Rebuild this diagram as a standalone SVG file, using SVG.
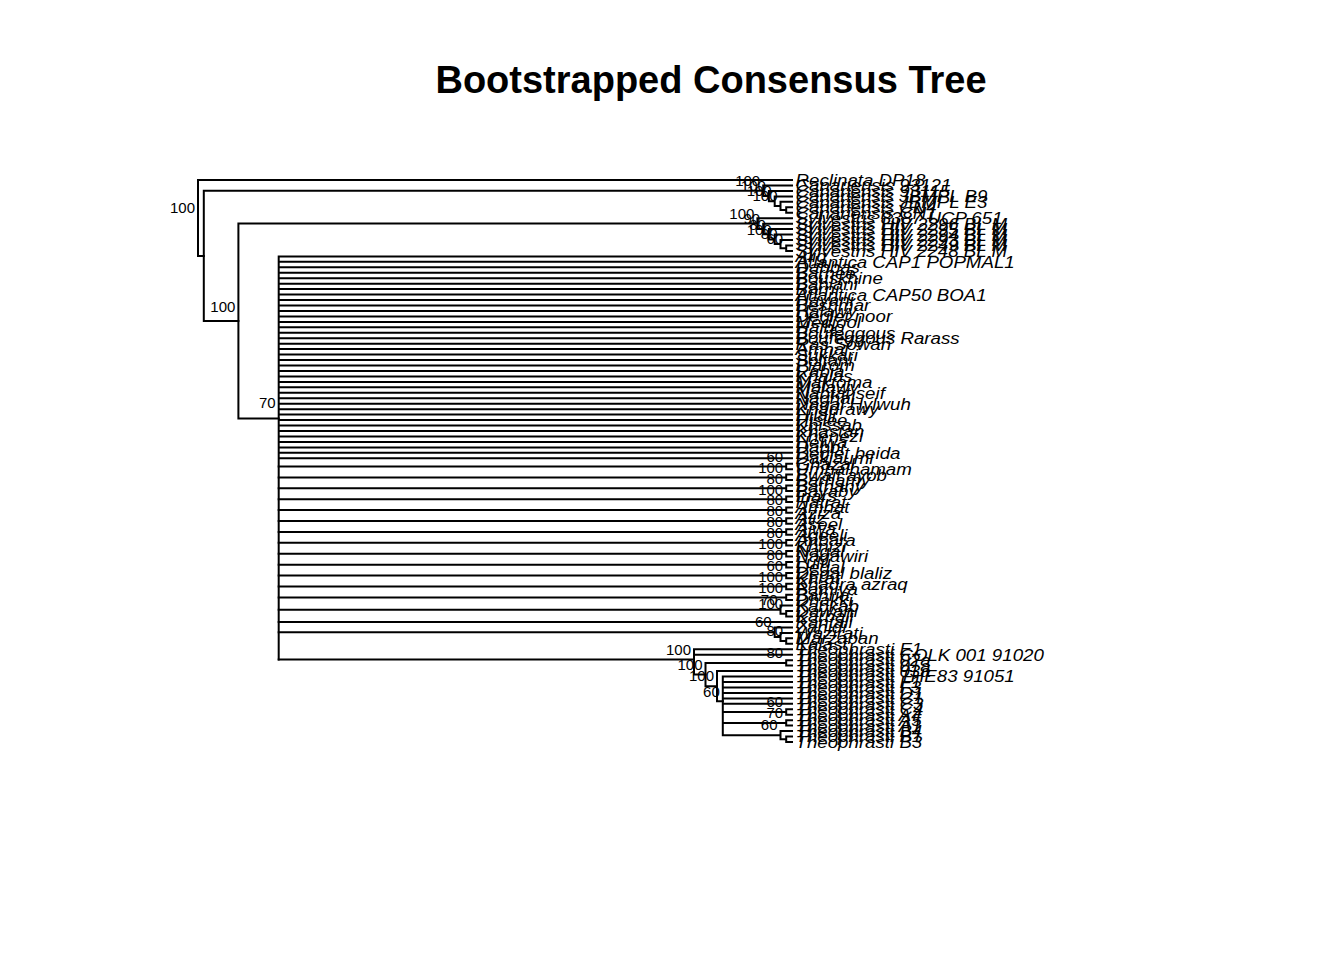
<svg xmlns="http://www.w3.org/2000/svg" width="1344" height="960" viewBox="0 0 1344 960">
<style>
.e{fill:none;stroke:#000;stroke-width:2;stroke-linecap:square}
.t{font-family:"Liberation Sans",Arial,Helvetica,sans-serif;font-style:italic;font-size:17px;fill:#000}
.n{font-family:"Liberation Sans",Arial,Helvetica,sans-serif;font-size:15px;fill:#000;text-anchor:end}
.ti{font-family:"Liberation Sans",Arial,Helvetica,sans-serif;font-weight:bold;font-size:38px;fill:#000;text-anchor:middle}
</style>
<rect width="1344" height="960" fill="#fff"/>
<text class="ti" x="711" y="93">Bootstrapped Consensus Tree</text>
<g id="connectors" class="e">
<path d="M198 180H792M198 180V255.9M198 255.9H203.8"/>
<path d="M203.8 190.7V321M203.8 190.7H763.2M203.8 321H238.4"/>
<path d="M763.2 185.5V196M763.2 185.5H792M763.2 196H768.9M768.9 190.9V201.2M768.9 190.9H792M768.9 201.2H774.7M774.7 196.4V205.9M774.7 196.4H792M774.7 205.9H780.5M780.5 201.8V210M780.5 201.8H792M780.5 210H786.2M786.2 207.3V212.7M786.2 207.3H792M786.2 212.7H792"/>
<path d="M238.4 223.6V418.5M238.4 223.6H757.4M238.4 418.5H278.7"/>
<path d="M757.4 218.2V229M757.4 218.2H792M757.4 229H763.2M763.2 223.7V234.2M763.2 223.7H792M763.2 234.2H768.9M768.9 229.1V239.4M768.9 229.1H792M768.9 239.4H774.7M774.7 234.6V244.1M774.7 234.6H792M774.7 244.1H780.5M780.5 240V248.2M780.5 240H792M780.5 248.2H786.2M786.2 245.5V250.9M786.2 245.5H792M786.2 250.9H792"/>
<path d="M278.7 256.4V659.5M278.7 256.4H792M278.7 261.8H792M278.7 267.3H792M278.7 272.8H792M278.7 278.2H792M278.7 283.7H792M278.7 289.1H792M278.7 294.6H792M278.7 300H792M278.7 305.5H792M278.7 311H792M278.7 316.4H792M278.7 321.9H792M278.7 327.3H792M278.7 332.8H792M278.7 338.2H792M278.7 343.7H792M278.7 349.1H792M278.7 354.6H792M278.7 360.1H792M278.7 365.5H792M278.7 371H792M278.7 376.4H792M278.7 381.9H792M278.7 387.3H792M278.7 392.8H792M278.7 398.3H792M278.7 403.7H792M278.7 409.2H792M278.7 414.6H792M278.7 420.1H792M278.7 425.5H792M278.7 431H792M278.7 436.4H792M278.7 441.9H792M278.7 447.4H792M278.7 452.8H792M278.7 458.3H792"/>
<path d="M278.7 466.5H786.2M786.2 463.7V469.2M786.2 463.7H792M786.2 469.2H792"/>
<path d="M278.7 477.4H786.2M786.2 474.6V480.1M786.2 474.6H792M786.2 480.1H792"/>
<path d="M278.7 488.3H786.2M786.2 485.6V491M786.2 485.6H792M786.2 491H792"/>
<path d="M278.7 499.2H786.2M786.2 496.5V501.9M786.2 496.5H792M786.2 501.9H792"/>
<path d="M278.7 510.1H786.2M786.2 507.4V512.8M786.2 507.4H792M786.2 512.8H792"/>
<path d="M278.7 521H786.2M786.2 518.3V523.7M786.2 518.3H792M786.2 523.7H792"/>
<path d="M278.7 531.9H786.2M786.2 529.2V534.7M786.2 529.2H792M786.2 534.7H792"/>
<path d="M278.7 542.8H786.2M786.2 540.1V545.6M786.2 540.1H792M786.2 545.6H792"/>
<path d="M278.7 553.8H786.2M786.2 551V556.5M786.2 551H792M786.2 556.5H792"/>
<path d="M278.7 564.7H786.2M786.2 561.9V567.4M786.2 561.9H792M786.2 567.4H792"/>
<path d="M278.7 575.6H786.2M786.2 572.9V578.3M786.2 572.9H792M786.2 578.3H792"/>
<path d="M278.7 586.5H786.2M786.2 583.8V589.2M786.2 583.8H792M786.2 589.2H792"/>
<path d="M278.7 597.4H786.2M786.2 594.7V600.1M786.2 594.7H792M786.2 600.1H792"/>
<path d="M278.7 609.7H780.5M780.5 605.6V613.8M780.5 605.6H792M780.5 613.8H786.2M786.2 611.1V616.5M786.2 611.1H792M786.2 616.5H792"/>
<path d="M278.7 622H792"/>
<path d="M278.7 632.2H774.7M774.7 627.4V637M774.7 627.4H792M774.7 637H780.5M780.5 632.9V641.1M780.5 632.9H792M780.5 641.1H786.2M786.2 638.3V643.8M786.2 638.3H792M786.2 643.8H792"/>
<path d="M278.7 659.5H694M694 649.2V674.5M694 649.2H792M694 654.7H792M694 674.5H705.5"/>
<path d="M705.5 662.9V686.2M705.5 662.9H786.2M786.2 660.2V665.6M786.2 660.2H792M786.2 665.6H792M705.5 686.2H717"/>
<path d="M717 671.1V701.2M717 671.1H792M717 701.2H722.8"/>
<path d="M722.8 676.5V735.2M722.8 676.5H792M722.8 682H792M722.8 687.4H792M722.8 692.9H792M722.8 698.4H792M722.8 703.8H792M722.8 712H786.2M786.2 709.3V714.7M786.2 709.3H792M786.2 714.7H792M722.8 722.9H786.2M786.2 720.2V725.6M786.2 720.2H792M786.2 725.6H792M722.8 735.2H780.5M780.5 731.1V739.3M780.5 731.1H792M780.5 739.3H786.2M786.2 736.5V742M786.2 736.5H792M786.2 742H792"/>
</g>
<g id="internal-nodes">
<g id="node-root"><text class="n" x="195" y="212.5">100</text></g>
<g id="node-C"><text class="n" x="235.4" y="312">100</text></g>
<g id="node-D"><text class="n" x="275.7" y="408">70</text></g>
<g id="node-K1"><text class="n" x="760.2" y="186">100</text></g>
<g id="node-K2"><text class="n" x="765.9" y="191.3">100</text></g>
<g id="node-K3"><text class="n" x="771.7" y="196.4">100</text></g>
<g id="node-K4"><text class="n" x="777.5" y="201.2">100</text></g>
<g id="node-S1"><text class="n" x="754.4" y="218.9">100</text></g>
<g id="node-S2"><text class="n" x="760.2" y="224.2">90</text></g>
<g id="node-S3"><text class="n" x="765.9" y="229.5">80</text></g>
<g id="node-S4"><text class="n" x="771.7" y="234.6">100</text></g>
<g id="node-S5"><text class="n" x="777.5" y="239.4">80</text></g>
<g id="node-S6"><text class="n" x="783.2" y="243.5">60</text></g>
<g id="node-P0"><text class="n" x="783.2" y="461.7">60</text></g>
<g id="node-P1"><text class="n" x="783.2" y="472.6">100</text></g>
<g id="node-P2"><text class="n" x="783.2" y="483.5">80</text></g>
<g id="node-P3"><text class="n" x="783.2" y="494.5">100</text></g>
<g id="node-P4"><text class="n" x="783.2" y="505.4">80</text></g>
<g id="node-P5"><text class="n" x="783.2" y="516.3">80</text></g>
<g id="node-P6"><text class="n" x="783.2" y="527.2">80</text></g>
<g id="node-P7"><text class="n" x="783.2" y="538.1">80</text></g>
<g id="node-P8"><text class="n" x="783.2" y="549">100</text></g>
<g id="node-P9"><text class="n" x="783.2" y="559.9">80</text></g>
<g id="node-P10"><text class="n" x="783.2" y="570.8">60</text></g>
<g id="node-P11"><text class="n" x="783.2" y="581.8">100</text></g>
<g id="node-P12"><text class="n" x="783.2" y="592.7">100</text></g>
<g id="node-Z"><text class="n" x="777.5" y="604.9">70</text></g>
<g id="node-Zp"><text class="n" x="783.2" y="609">100</text></g>
<g id="node-Q"><text class="n" x="771.7" y="627.4">60</text></g>
<g id="node-Rp"><text class="n" x="783.2" y="636.3">80</text></g>
<g id="node-T1"><text class="n" x="691" y="654.7">100</text></g>
<g id="node-Tp"><text class="n" x="783.2" y="658.1">80</text></g>
<g id="node-T2"><text class="n" x="702.5" y="669.8">100</text></g>
<g id="node-T3"><text class="n" x="714" y="681.4">100</text></g>
<g id="node-T4"><text class="n" x="719.8" y="696.5">60</text></g>
<g id="node-Tq1"><text class="n" x="783.2" y="707.2">60</text></g>
<g id="node-Tq2"><text class="n" x="783.2" y="718.1">70</text></g>
<g id="node-Tr"><text class="n" x="777.5" y="730.4">60</text></g>
</g>
<g id="tips" class="t" transform="translate(795.5 0.6) scale(1.1 1)">
<g id="tip-0"><text x="0" y="185.4">Reclinata DP18</text></g>
<g id="tip-1"><text x="0" y="190.9">Canariensis 93121</text></g>
<g id="tip-2"><text x="0" y="196.3">Canariensis 93115</text></g>
<g id="tip-3"><text x="0" y="201.8">Canariensis JBMPL B9</text></g>
<g id="tip-4"><text x="0" y="207.2">Canariensis JBMPL E3</text></g>
<g id="tip-5"><text x="0" y="212.7">Canariensis CN4</text></g>
<g id="tip-6"><text x="0" y="218.1">Canariensis CN1</text></g>
<g id="tip-7"><text x="0" y="223.6">Sylvestris 8387 UCP 651</text></g>
<g id="tip-8"><text x="0" y="229.1">Sylvestris HIV 2296 BL M</text></g>
<g id="tip-9"><text x="0" y="234.5">Sylvestris HIV 2295 BL M</text></g>
<g id="tip-10"><text x="0" y="240">Sylvestris HIV 2294 BL M</text></g>
<g id="tip-11"><text x="0" y="245.4">Sylvestris HIV 2293 BL M</text></g>
<g id="tip-12"><text x="0" y="250.9">Sylvestris HIV 2249 BL M</text></g>
<g id="tip-13"><text x="0" y="256.3">Sylvestris HIV 2248 BL M</text></g>
<g id="tip-14"><text x="0" y="261.8">Alig</text></g>
<g id="tip-15"><text x="0" y="267.2">Atlantica CAP1 POPMAL1</text></g>
<g id="tip-16"><text x="0" y="272.7">Dabbas</text></g>
<g id="tip-17"><text x="0" y="278.2">Barhee</text></g>
<g id="tip-18"><text x="0" y="283.6">Bouskhine</text></g>
<g id="tip-19"><text x="0" y="289.1">Bahlani</text></g>
<g id="tip-20"><text x="0" y="294.5">Barni</text></g>
<g id="tip-21"><text x="0" y="300">Atlantica CAP50 BOA1</text></g>
<g id="tip-22"><text x="0" y="305.4">Hayani</text></g>
<g id="tip-23"><text x="0" y="310.9">Beshmar</text></g>
<g id="tip-24"><text x="0" y="316.4">Halawy</text></g>
<g id="tip-25"><text x="0" y="321.8">Deglet noor</text></g>
<g id="tip-26"><text x="0" y="327.3">Medjool</text></g>
<g id="tip-27"><text x="0" y="332.7">Halbo</text></g>
<g id="tip-28"><text x="0" y="338.2">Boufeggous</text></g>
<g id="tip-29"><text x="0" y="343.6">Boufeggous Rarass</text></g>
<g id="tip-30"><text x="0" y="349.1">Ras Sowan</text></g>
<g id="tip-31"><text x="0" y="354.5">Amhal</text></g>
<g id="tip-32"><text x="0" y="360">Sukkari</text></g>
<g id="tip-33"><text x="0" y="365.5">Soltani</text></g>
<g id="tip-34"><text x="0" y="370.9">Piarom</text></g>
<g id="tip-35"><text x="0" y="376.4">Rabia</text></g>
<g id="tip-36"><text x="0" y="381.8">Khalas</text></g>
<g id="tip-37"><text x="0" y="387.3">Maktoma</text></g>
<g id="tip-38"><text x="0" y="392.7">Malawy</text></g>
<g id="tip-39"><text x="0" y="398.2">Nabtat seif</text></g>
<g id="tip-40"><text x="0" y="403.7">Naghal</text></g>
<g id="tip-41"><text x="0" y="409.1">Nagal Hylwuh</text></g>
<g id="tip-42"><text x="0" y="414.6">Khadrawy</text></g>
<g id="tip-43"><text x="0" y="420">Hilali</text></g>
<g id="tip-44"><text x="0" y="425.5">Hislee</text></g>
<g id="tip-45"><text x="0" y="430.9">Khissab</text></g>
<g id="tip-46"><text x="0" y="436.4">Khastan</text></g>
<g id="tip-47"><text x="0" y="441.8">Khenezi</text></g>
<g id="tip-48"><text x="0" y="447.3">Helwa</text></g>
<g id="tip-49"><text x="0" y="452.8">Dabbi</text></g>
<g id="tip-50"><text x="0" y="458.2">Deglet beida</text></g>
<g id="tip-51"><text x="0" y="463.7">Dakjaumi</text></g>
<g id="tip-52"><text x="0" y="469.1">Ghazal</text></g>
<g id="tip-53"><text x="0" y="474.6">Umhalhamam</text></g>
<g id="tip-54"><text x="0" y="480">Ewait ayob</text></g>
<g id="tip-55"><text x="0" y="485.5">Barhamy</text></g>
<g id="tip-56"><text x="0" y="491">Bathany</text></g>
<g id="tip-57"><text x="0" y="496.4">Bayaby</text></g>
<g id="tip-58"><text x="0" y="501.9">Inars</text></g>
<g id="tip-59"><text x="0" y="507.3">Hatrat</text></g>
<g id="tip-60"><text x="0" y="512.8">Amhat</text></g>
<g id="tip-61"><text x="0" y="518.2">Aziza</text></g>
<g id="tip-62"><text x="0" y="523.7">Aliz</text></g>
<g id="tip-63"><text x="0" y="529.1">Aseel</text></g>
<g id="tip-64"><text x="0" y="534.6">Ajwa</text></g>
<g id="tip-65"><text x="0" y="540.1">Aqeeli</text></g>
<g id="tip-66"><text x="0" y="545.5">Anbara</text></g>
<g id="tip-67"><text x="0" y="551">Khnizi</text></g>
<g id="tip-68"><text x="0" y="556.4">Nagal</text></g>
<g id="tip-69"><text x="0" y="561.9">Nagawiri</text></g>
<g id="tip-70"><text x="0" y="567.3">Lulu</text></g>
<g id="tip-71"><text x="0" y="572.8">Degal</text></g>
<g id="tip-72"><text x="0" y="578.3">Degal blaliz</text></g>
<g id="tip-73"><text x="0" y="583.7">Khrat</text></g>
<g id="tip-74"><text x="0" y="589.2">Khadra azraq</text></g>
<g id="tip-75"><text x="0" y="594.6">Bamiya</text></g>
<g id="tip-76"><text x="0" y="600.1">Bahria</text></g>
<g id="tip-77"><text x="0" y="605.5">Dhakki</text></g>
<g id="tip-78"><text x="0" y="611">Kabkab</text></g>
<g id="tip-79"><text x="0" y="616.5">Dawahi</text></g>
<g id="tip-80"><text x="0" y="621.9">Karbali</text></g>
<g id="tip-81"><text x="0" y="627.4">Kantali</text></g>
<g id="tip-82"><text x="0" y="632.8">Zahidi</text></g>
<g id="tip-83"><text x="0" y="638.3">Wazirati</text></g>
<g id="tip-84"><text x="0" y="643.7">Marzaban</text></g>
<g id="tip-85"><text x="0" y="649.2">Kalast</text></g>
<g id="tip-86"><text x="0" y="654.6">Theophrasti E1</text></g>
<g id="tip-87"><text x="0" y="660.1">Theophrasti COLK 001 91020</text></g>
<g id="tip-88"><text x="0" y="665.6">Theophrasti 02a</text></g>
<g id="tip-89"><text x="0" y="671">Theophrasti 01a</text></g>
<g id="tip-90"><text x="0" y="676.5">Theophrasti 03a</text></g>
<g id="tip-91"><text x="0" y="681.9">Theophrasti THE83 91051</text></g>
<g id="tip-92"><text x="0" y="687.4">Theophrasti F1</text></g>
<g id="tip-93"><text x="0" y="692.8">Theophrasti F3</text></g>
<g id="tip-94"><text x="0" y="698.3">Theophrasti D1</text></g>
<g id="tip-95"><text x="0" y="703.7">Theophrasti C1</text></g>
<g id="tip-96"><text x="0" y="709.2">Theophrasti C3</text></g>
<g id="tip-97"><text x="0" y="714.7">Theophrasti C4</text></g>
<g id="tip-98"><text x="0" y="720.1">Theophrasti A4</text></g>
<g id="tip-99"><text x="0" y="725.6">Theophrasti A5</text></g>
<g id="tip-100"><text x="0" y="731">Theophrasti A1</text></g>
<g id="tip-101"><text x="0" y="736.5">Theophrasti B4</text></g>
<g id="tip-102"><text x="0" y="741.9">Theophrasti B1</text></g>
<g id="tip-103"><text x="0" y="747.4">Theophrasti B3</text></g>
</g>
</svg>
